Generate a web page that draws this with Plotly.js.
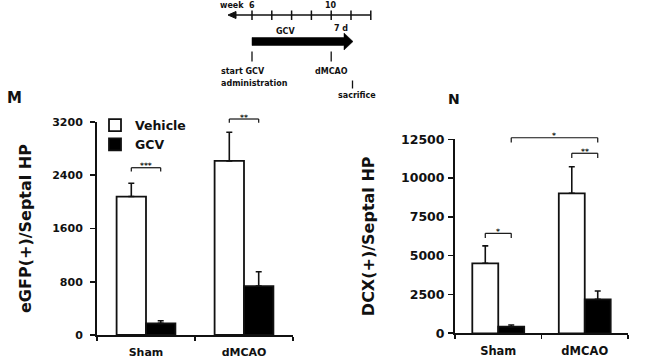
<!DOCTYPE html>
<html><head><meta charset="utf-8">
<script src="https://cdn.plot.ly/plotly-3.0.1.min.js"></script>
<style>html,body{margin:0;padding:0;background:#fff}#chart{width:650px;height:362px}</style>
</head><body><div id="chart"></div>
<script>
// ---- data ----
const categories = ['Sham', 'dMCAO'];
const seriesNames = ['Vehicle', 'GCV'];
const egfpVehicle = [2080, 2615];
const egfpVehicleErr = [200, 430];
const egfpGCV = [175, 735];
const egfpGCVErr = [40, 215];
const dcxVehicle = [4510, 9020];
const dcxVehicleErr = [1120, 1715];
const dcxGCV = [425, 2190];
const dcxGCVErr = [110, 535];
const egfpTicks = [0, 800, 1600, 2400, 3200];
const dcxTicks = [0, 2500, 5000, 7500, 10000, 12500];
const egfpTitle = 'eGFP(+)/Septal HP';
const dcxTitle = 'DCX(+)/Septal HP';
// significance brackets: [category, series] of both ends, value level, label
const egfpSig = [
  {a: [0, 0], b: [0, 1], level: 2513, label: '***'},
  {a: [1, 0], b: [1, 1], level: 3245, label: '**'}
];
const dcxSig = [
  {a: [0, 0], b: [0, 1], level: 6440, label: '*'},
  {a: [1, 0], b: [1, 1], level: 11600, label: '**'},
  {a: [0, 1], b: [1, 1], level: 12600, label: '*'}
];

// ---- styling ----
const W = 650, H = 362;
const FONT = 'DejaVu Sans, Verdana, sans-serif';
const INK = '#111';
const BARGAP = 0.4;
const px = x => x / W, py = y => 1 - y / H;

function barTrace(name, y, err, xa, ya, filled, showlegend) {
  return {
    type: 'bar', name: name, x: categories, y: y, xaxis: xa, yaxis: ya,
    showlegend: showlegend,
    marker: {color: filled ? '#000' : '#fff', line: {color: INK, width: 1.8}},
    error_y: {type: 'data', symmetric: false, array: err, arrayminus: err.map(() => 0),
              color: INK, thickness: 1.6, width: 3}
  };
}
const data = [
  barTrace(seriesNames[0], egfpVehicle, egfpVehicleErr, 'x', 'y', false, true),
  barTrace(seriesNames[1], egfpGCV, egfpGCVErr, 'x', 'y', true, true),
  barTrace(seriesNames[0], dcxVehicle, dcxVehicleErr, 'x2', 'y2', false, false),
  barTrace(seriesNames[1], dcxGCV, dcxGCVErr, 'x2', 'y2', true, false)
];

const bold = size => ({family: FONT, size: size, color: INK, weight: 'bold'});
function xAxis(dom, anchor, fs) {
  return {domain: dom, anchor: anchor, type: 'category', tickson: 'boundaries',
    ticks: 'outside', ticklen: 4, tickwidth: 1.6, tickcolor: INK,
    showline: true, linecolor: INK, linewidth: 2, showgrid: false, zeroline: false,
    tickfont: bold(fs), ticklabelstandoff: 6, fixedrange: true};
}
function yAxis(dom, anchor, max, ticks, title, fs, labelGap, titleGap) {
  return {domain: dom, anchor: anchor, range: [0, max], tickvals: ticks, tickformat: 'd',
    ticks: 'outside', ticklen: 5, tickwidth: 1.6, tickcolor: INK,
    showline: true, linecolor: INK, linewidth: 2, showgrid: false, zeroline: false,
    tickfont: bold(fs), ticklabelstandoff: labelGap, fixedrange: true,
    title: {text: title, font: bold(16), standoff: titleGap}};
}

const shapes = [], annotations = [];
const half = (1 - BARGAP) / 4; // offset of a bar centre within its category group
function barCenter(p) { return p[0] + (p[1] === 0 ? -half : half); }
function addBrackets(list, xa, ya, max, drop) {
  list.forEach(s => {
    const x0 = barCenter(s.a), x1 = barCenter(s.b);
    const yd = ya + ' domain';
    const top = s.level / max, low = (s.level - drop) / max;
    const ln = {color: INK, width: 1.2};
    shapes.push({type: 'line', xref: xa, yref: yd, x0: x0, x1: x1, y0: top, y1: top, line: ln});
    shapes.push({type: 'line', xref: xa, yref: yd, x0: x0, x1: x0, y0: top, y1: low, line: ln});
    shapes.push({type: 'line', xref: xa, yref: yd, x0: x1, x1: x1, y0: top, y1: low, line: ln});
    annotations.push({xref: xa, yref: yd, x: (x0 + x1) / 2, y: top, text: s.label,
      showarrow: false, yanchor: 'middle', xanchor: 'center', yshift: 2,
      font: bold(7.5)});
  });
}
addBrackets(egfpSig, 'x', 'y', 3200, 55);
addBrackets(dcxSig, 'x2', 'y2', 12500, 300);

// ---- timeline scheme (decoration, pixel positions) ----
const week = w => 252 + (w - 6) * 19.8;
const dark = {color: INK, width: 1.5};
shapes.push({type: 'line', xref: 'paper', yref: 'paper', x0: px(234), x1: px(week(12)), y0: py(15), y1: py(15), line: dark});
shapes.push({type: 'path', xref: 'paper', yref: 'paper',
  path: `M${px(228)},${py(15)} L${px(236)},${py(11.5)} L${px(236)},${py(18.5)} Z`,
  fillcolor: INK, line: {color: INK, width: 1}});
for (let w = 6; w <= 12; w++) {
  shapes.push({type: 'line', xref: 'paper', yref: 'paper', x0: px(week(w)), x1: px(week(w)), y0: py(10.5), y1: py(20), line: dark});
}
shapes.push({type: 'path', xref: 'paper', yref: 'paper',
  path: `M${px(week(6))},${py(37.5)} L${px(344)},${py(37.5)} L${px(344)},${py(33)} L${px(353)},${py(41.5)} L${px(344)},${py(50)} L${px(344)},${py(45.5)} L${px(week(6))},${py(45.5)} Z`,
  fillcolor: '#000', line: {color: '#000', width: 0.5}});
[[week(6), 51.5, 61.5], [week(10), 51.5, 61.5], [352.5, 80.5, 88.5]].forEach(t => {
  shapes.push({type: 'line', xref: 'paper', yref: 'paper', x0: px(t[0]), x1: px(t[0]), y0: py(t[1]), y1: py(t[2]), line: {color: INK, width: 1.3}});
});
function txt(text, x, y, anchor, font) {
  annotations.push({xref: 'paper', yref: 'paper', x: px(x), y: py(y), text: text, showarrow: false,
    xanchor: anchor, yanchor: 'middle', font: font || bold(8), borderpad: 0});
}
txt('week', 231.5, 5.5, 'center');
txt('6', week(6), 5.5, 'center');
txt('10', week(10), 5.5, 'center');
txt('GCV', 285, 31.5, 'center');
txt('7 d', 341, 28, 'center');
txt('start GCV', 220, 72, 'left');
txt('administration', 220, 84, 'left');
txt('dMCAO', 314, 72, 'left');
txt('sacrifice', 337, 95, 'left');
txt('M', 6, 98, 'left', bold(15));
txt('N', 447, 99, 'left', bold(14));

const layout = {
  width: W, height: H, margin: {l: 0, r: 0, t: 0, b: 0},
  paper_bgcolor: '#fff', plot_bgcolor: '#fff',
  barmode: 'group', bargap: BARGAP, bargroupgap: 0,
  showlegend: true,
  legend: {x: px(95), y: py(110.5), xanchor: 'left', yanchor: 'top',
    font: bold(12.5), bgcolor: 'rgba(0,0,0,0)', itemwidth: 30, tracegroupgap: 0},
  xaxis: xAxis([px(97), px(293)], 'y', 11),
  yaxis: yAxis([py(335), py(122)], 'x', 3200, egfpTicks, egfpTitle, 11, 5, 17),
  xaxis2: xAxis([px(455), px(628)], 'y2', 11.5),
  yaxis2: yAxis([py(333.3), py(139.3)], 'x2', 12500, dcxTicks, dcxTitle, 12.5, 1, 22),
  shapes: shapes, annotations: annotations
};
Plotly.newPlot('chart', data, layout, {displayModeBar: false, staticPlot: true});
</script></body></html>
